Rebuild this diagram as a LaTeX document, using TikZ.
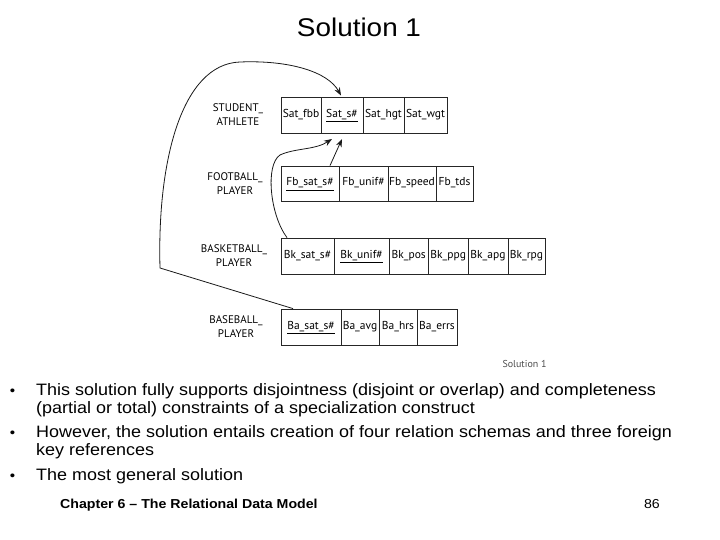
\documentclass[tikz,border=0pt]{standalone}
\usepackage{fontspec}
\setmainfont{Liberation Sans}[FakeStretch=1.09]
\newfontfamily\diagfont{PT Sans}
\usetikzlibrary{arrows.meta}
\tikzset{
  cell/.style={draw=black!85, line width=0.8pt, inner sep=0pt, minimum height=36pt,
    text height=8.5pt, text depth=3.5pt,
    font=\diagfont\fontsize{11.5}{13}\selectfont},
  tlabel/.style={align=center, inner sep=0pt, font=\diagfont\fontsize{11}{14}\selectfont},
  fk/.style={draw=black!90, line width=0.8pt, -{Stealth[length=8pt,width=6pt]}},
  body/.style={anchor=base west, inner sep=0pt, font=\fontsize{16.5}{18}\selectfont},
  bul/.style={anchor=base, inner sep=0pt, font=\fontsize{14}{18}\selectfont},
}
\begin{document}
\begin{tikzpicture}[x=1pt,y=-1pt]
\useasboundingbox (0,0) rectangle (720,540);
% title
\node[anchor=base, inner sep=0pt, font=\fontsize{25.6}{30}\selectfont] (title) at (359,36.5) {Solution 1};
% STUDENT_ATHLETE
\node[tlabel] (lsa) at (238,115) {STUDENT\_\\ATHLETE};
\node[cell, minimum width=40pt] (sa1) at (301,115) {Sat\_fbb};
\node[cell, minimum width=42pt] (sa2) at (342,115) {\underline{Sat\_s\#}};
\node[cell, minimum width=41pt] (sa3) at (383.5,115) {Sat\_hgt};
\node[cell, minimum width=43pt] (sa4) at (425.5,115) {Sat\_wgt};
% FOOTBALL_PLAYER
\node[tlabel] (lfb) at (235,183.5) {FOOTBALL\_\\PLAYER};
\node[cell, minimum width=58pt, minimum height=35pt] (fb1) at (310,183.5) {\underline{Fb\_sat\_s\#}};
\node[cell, minimum width=49pt, minimum height=35pt] (fb2) at (363.5,183.5) {Fb\_unif\#};
\node[cell, minimum width=48pt, minimum height=35pt] (fb3) at (412,183.5) {Fb\_speed};
\node[cell, minimum width=37pt, minimum height=35pt] (fb4) at (454.5,183.5) {Fb\_tds};
% BASKETBALL_PLAYER
\node[tlabel] (lbk) at (234,256) {BASKETBALL\_\\PLAYER};
\node[cell, minimum width=53pt] (bk1) at (307.5,256) {Bk\_sat\_s\#};
\node[cell, minimum width=55pt] (bk2) at (361.5,256) {\underline{Bk\_unif\#}};
\node[cell, minimum width=39.5pt] (bk3) at (408.75,256) {Bk\_pos};
\node[cell, minimum width=39.5pt] (bk4) at (448.25,256) {Bk\_ppg};
\node[cell, minimum width=40pt] (bk5) at (488,256) {Bk\_apg};
\node[cell, minimum width=37pt] (bk6) at (526.5,256) {Bk\_rpg};
% BASEBALL_PLAYER
\node[tlabel] (lba) at (236,327) {BASEBALL\_\\PLAYER};
\node[cell, minimum width=60pt] (ba1) at (311,327) {\underline{Ba\_sat\_s\#}};
\node[cell, minimum width=38pt] (ba2) at (360,327) {Ba\_avg};
\node[cell, minimum width=38pt] (ba3) at (398,327) {Ba\_hrs};
\node[cell, minimum width=40pt] (ba4) at (437,327) {Ba\_errs};
% connectors
\coordinate (t1) at (342,139);
\coordinate (t2) at (332,139);
\coordinate (t3) at (341,95.5);
\draw[fk] ([xshift=20pt]fb1.north) -- (t1);
\draw[fk] ([xshift=-20.5pt]bk1.north) .. controls (270,215) and (265,165) .. (280,155)
   .. controls (295,148) and (315,150) .. (t2);
\draw[fk] ([xshift=-18pt]ba1.north) -- (160,268) .. controls (157,160) and (182,64) .. (240,62)
   .. controls (290,60) and (328,72) .. (t3);
% caption
\node[anchor=center, inner sep=0pt, text=black!70, font=\diagfont\fontsize{10}{12}\selectfont] (cap) at (524.5,364) {Solution 1};
% bullets
\node[bul] (b1) at (12.5,395) {\textbullet};
\node[body] (l1) at (36,395) {This solution fully supports disjointness (disjoint or overlap) and completeness};
\node[body] (l2) at (36,413) {(partial or total) constraints of a specialization construct};
\node[bul] (b2) at (12.5,437) {\textbullet};
\node[body] (l3) at (36,437) {However, the solution entails creation of four relation schemas and three foreign};
\node[body] (l4) at (36,455) {key references};
\node[bul] (b3) at (12.5,480) {\textbullet};
\node[body] (l5) at (36,480) {The most general solution};
% footer
\node[anchor=base west, inner sep=0pt, font=\bfseries\fontsize{13}{15}\selectfont] (foot) at (60,508) {Chapter 6 – The Relational Data Model};
\node[anchor=base east, inner sep=0pt, font=\fontsize{13}{15}\selectfont] (pg) at (660,508) {86};
\end{tikzpicture}
\end{document}
